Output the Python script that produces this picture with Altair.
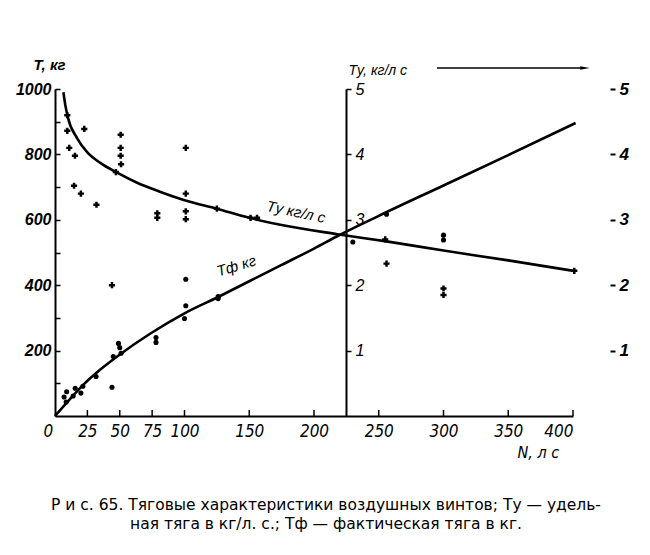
import altair as alt
import pandas as pd

# ---- data ----
# measured actual thrust Tф (N, h.p. ; T, kg) – dots
tf_n = [7, 9, 8.6, 14, 15.6, 20, 21.5, 31.7, 44, 45, 49, 50, 51, 78, 78, 101, 101, 100, 126, 126, 230, 256, 300, 300]
tf_t = [58, 74, 43, 61, 85, 70, 91, 121, 88, 182, 222, 209, 192, 240, 225, 418, 337, 298, 359, 365, 532, 617, 553, 538]

# measured specific thrust Tу (N ; kg/h.p.) – crosses
ty_n = [9.5, 9.5, 22.6, 11, 15.4, 14.7, 20, 32, 50.7, 50.7, 50.7, 51, 47, 101, 101, 101, 101, 79, 79, 125, 151, 156, 44, 255, 256, 300, 300, 401]
ty_v = [4.60, 4.36, 4.39, 4.10, 3.98, 3.52, 3.40, 3.23, 4.30, 4.10, 3.98, 3.85, 3.73, 4.10, 3.40, 3.13, 3.01, 3.10, 3.03, 3.17, 3.03, 3.03, 2.00, 2.70, 2.33, 1.95, 1.85, 2.22]

# fitted curves
tf_curve_n = [0, 10, 22, 35, 48, 74, 100, 126, 150, 175, 200, 219, 250, 300, 350, 402]
tf_curve_t = [0, 45, 96, 142, 182, 253, 314, 364, 412, 462, 512, 552, 612, 705, 798, 896]
ty_curve_n = [6.5, 8, 10, 17, 25, 35, 48, 63, 81, 100, 125, 150, 175, 218, 256, 300, 350, 400]
ty_curve_v = [4.95, 4.75, 4.56, 4.25, 4.03, 3.87, 3.72, 3.57, 3.43, 3.30, 3.17, 3.03, 2.92, 2.78, 2.67, 2.53, 2.38, 2.22]

# axis values / labels
x_ticks = [0, 25, 50, 75, 100, 150, 200, 250, 300, 350, 400]
t_labels = [200, 400, 600, 800, 1000]
t_minor = [100, 200, 300, 400, 500, 600, 700, 800, 900, 1000]
ty_labels = [1, 2, 3, 4, 5]

curve_label_text = ["Tу кг/л с", "Tф кг"]
curve_label_n = [186, 140]
curve_label_t = [624, 459]
curve_label_angle = [12, 343]

caption = [
    "Р и с. 65. Тяговые характеристики воздушных винтов; Tу — удель-",
    "ная тяга в кг/л. с.; Tф — фактическая тяга в кг.",
]

# ---- tables ----
tf_pts = pd.DataFrame({"N": tf_n, "T": tf_t})
ty_pts = pd.DataFrame({"N": ty_n, "Ty": ty_v})
tf_line = pd.DataFrame({"N": tf_curve_n, "T": tf_curve_t})
ty_line = pd.DataFrame({"N": ty_curve_n, "Ty": ty_curve_v})
lbl = pd.DataFrame({"N": curve_label_n, "T": curve_label_t, "txt": curve_label_text, "ang": curve_label_angle})
xt = pd.DataFrame({"N": x_ticks[1:]})
one = pd.DataFrame({"a": [0]})

W, H = 518, 327
FONT = "Liberation Sans"
NARROW = "Liberation Sans Narrow, DejaVu Sans Condensed, Liberation Sans"

xs = alt.Scale(domain=[0, 400], nice=False)
ts = alt.Scale(domain=[0, 1000], nice=False)
tys = alt.Scale(domain=[0, 5], nice=False)

x_axis = alt.Axis(
    values=x_ticks, ticks=False, grid=False, domainWidth=2, domainColor="black",
    labelFont=NARROW, labelFontSize=17, labelFontStyle="italic", labelColor="black",
    labelPadding=7,
    labelOffset={"condition": {"test": "datum.value === 0", "value": -12}, "value": 0},
    title="N, л с", titleAngle=0, titleX=462, titleY=36, titleAlign="left",
    titleBaseline="middle", titleFont=NARROW, titleFontSize=16, titleFontStyle="italic",
    titleFontWeight="normal", titleColor="black",
)
X = alt.X("N:Q", scale=xs, axis=x_axis)

dots = alt.Chart(tf_pts).mark_circle(size=26, color="black", opacity=1).encode(
    x=X,
    y=alt.Y("T:Q", scale=ts, axis=alt.Axis(
        values=t_labels, format="d", ticks=False, grid=False, domainWidth=2, domainColor="black",
        labelFont=FONT, labelFontSize=16, labelFontStyle="italic", labelFontWeight="bold",
        labelColor="black", labelPadding=4,
        title="T, кг", titleAngle=0, titleX=-22, titleY=-25, titleAlign="left",
        titleBaseline="middle", titleFont=FONT, titleFontSize=15, titleFontStyle="italic",
        titleFontWeight="bold", titleColor="black")),
)

tf_curve = alt.Chart(tf_line).mark_line(interpolate="monotone", color="black", strokeWidth=2.6).encode(
    x=X,
    y=alt.Y("T:Q", scale=ts, axis=alt.Axis(
        orient="right", offset=-W, values=t_minor, labels=False, domain=False, grid=False,
        ticks=True, tickSize=5, tickWidth=1.5, tickColor="black", title=None)),
)

crosses = alt.Chart(ty_pts).mark_point(shape="cross", filled=True, size=38, color="black", opacity=1).encode(
    x=X,
    y=alt.Y("Ty:Q", scale=tys, axis=alt.Axis(
        orient="right", offset=-227, values=ty_labels, grid=False,
        domain=True, domainWidth=2, domainColor="black",
        ticks=True, tickSize=5, tickWidth=1.5, tickColor="black",
        labelFont=FONT, labelFontSize=16, labelFontStyle="italic", labelColor="black",
        labelPadding=4,
        title="Tу, кг/л с", titleAngle=0, titleX=2, titleY=-19, titleAlign="left",
        titleBaseline="middle", titleFont=FONT, titleFontSize=14, titleFontStyle="italic",
        titleFontWeight="normal", titleColor="black")),
)

ty_curve = alt.Chart(ty_line).mark_line(interpolate="monotone", color="black", strokeWidth=2.6).encode(
    x=X,
    y=alt.Y("Ty:Q", scale=tys, axis=alt.Axis(
        orient="right", offset=37, values=ty_labels, grid=False, domain=False,
        ticks=True, tickSize=5, tickWidth=2, tickColor="black",
        labelFont=FONT, labelFontSize=17, labelFontStyle="italic", labelFontWeight="bold",
        labelColor="black", labelPadding=4, title=None)),
)

labels = alt.Chart(lbl).mark_text(font=FONT, fontSize=15, fontStyle="italic", color="black").encode(
    x=X,
    y=alt.Y("T:Q", scale=ts, axis=None),
    text="txt:N",
    angle=alt.Angle("ang:Q", scale=None),
)

x_inner_ticks = alt.Chart(xt).mark_rule(color="black", strokeWidth=1.5).encode(
    x=X, y=alt.value(H), y2=alt.value(H - 6),
)

arrow_line = alt.Chart(one).mark_rule(color="black", strokeWidth=1.6).encode(
    x=alt.value(382), x2=alt.value(528), y=alt.value(-21),
)
arrow_head = alt.Chart(one).mark_point(
    shape="M-1,-0.35L1,0L-1,0.35Z", filled=True, size=90, color="black", opacity=1
).encode(x=alt.value(530), y=alt.value(-21))

chart = alt.layer(
    dots, tf_curve, crosses, ty_curve, labels, x_inner_ticks, arrow_line, arrow_head
).resolve_scale(y="independent").properties(
    width=W, height=H,
    autosize=alt.AutoSizeParams(type="none"),
    padding={"left": 47, "top": 81, "right": 69, "bottom": 131},
    background="white",
    title=alt.TitleParams(
        text=caption, orient="bottom", anchor="middle", dx=12, offset=38,
        font="DejaVu Sans", fontSize=15.5, fontWeight="normal", lineHeight=19, color="black",
    ),
).configure_view(stroke=None)

chart.save("out.html", embed_options={"renderer": "svg", "actions": False})
